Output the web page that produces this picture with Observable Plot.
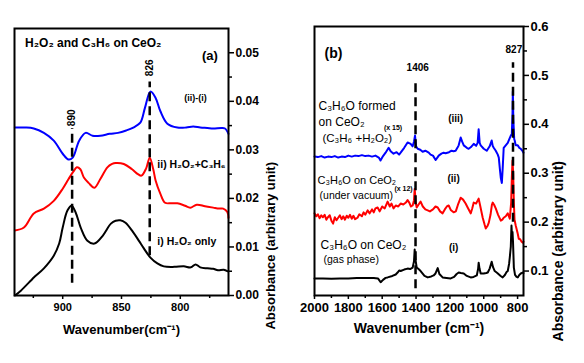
<!DOCTYPE html>
<html><head><meta charset="utf-8">
<script src="https://cdn.jsdelivr.net/npm/d3@7"></script>
<script src="https://cdn.jsdelivr.net/npm/@observablehq/plot@0.6"></script>
<style>
body{margin:0;background:#fff}
#wrap{position:relative;width:584px;height:363px;font-family:"Liberation Sans",Arial,sans-serif}
#wrap svg{position:absolute;top:0}
</style></head><body><div id="wrap"></div>
<script>
// ---------- Panel (a): H2O2 and C3H6 on CeO2 ----------
const aBlackWn  = [940.7,935.6,927,924.6,916,907.6,903,900,896,892.4,889,884.7,879,873,866,859,855,851,846.6,840,835,831,825.4,819.5,814,805,797,791,787,783,777,772,768,763,760];
const aBlackAbs = [0.0,0.001,0.0031,0.0037,0.0056,0.0082,0.0107,0.014,0.0175,0.0185,0.0171,0.014,0.0113,0.0107,0.0123,0.0148,0.0154,0.0155,0.015,0.013,0.0112,0.0097,0.0078,0.0066,0.006,0.0059,0.006,0.0058,0.0064,0.0058,0.0056,0.0055,0.0052,0.0053,0.005];
const aRedWn  = [940.7,933,924.6,916,907.6,900,895,891,888,885,882,878,873,868,862,858,855,848,841,836,833,829,826,823,821,817,813,808,802.5,796,791.5,786,779,772,767,763.5,760,759];
const aRedAbs = [0.0134,0.014,0.0169,0.0179,0.0195,0.022,0.024,0.0255,0.0264,0.026,0.0243,0.0232,0.0222,0.024,0.0264,0.0271,0.0273,0.0271,0.026,0.025,0.0247,0.0262,0.0284,0.026,0.0237,0.021,0.0191,0.019,0.019,0.0185,0.0181,0.0187,0.0184,0.0181,0.0179,0.0179,0.0172,0.016];
const aBlueWn  = [940.7,932,924.6,916,907.6,900,895,891.5,886,880.5,874.6,868,860,853,846,840,834,830,825.4,821,817,811,802.5,795,789,783,777,772,765,762,759];
const aBlueAbs = [0.0346,0.0346,0.0344,0.0335,0.0319,0.0292,0.028,0.0284,0.0319,0.0335,0.0329,0.0329,0.0333,0.0335,0.034,0.0346,0.0356,0.0387,0.042,0.0407,0.038,0.0354,0.0346,0.0346,0.0348,0.0346,0.0345,0.0344,0.0345,0.0344,0.0333];
const aXTicks = [900, 850, 800];
const aXMinor = [925, 875, 825, 775];
const aYTicks = [0, 0.01, 0.02, 0.03, 0.04, 0.05];
const aYMinor = [0.005, 0.015, 0.025, 0.035, 0.045];
const aMarkers = [890, 826];

// ---------- Panel (b): C3H6O on CeO2 ----------
const bBlueWn  = [2000,1980,1960,1940,1920,1900,1880,1860,1840,1820,1800,1780,1760,1740,1720,1700,1680,1660,1640,1620,1610,1595,1580,1562,1550,1533,1515,1500,1491,1470,1450,1432,1420,1412,1406,1400,1390,1375,1361,1345,1325,1314,1300,1284,1272,1266,1250,1237,1225,1205,1190,1178,1166,1154,1148,1136,1128,1118,1100,1089,1077,1059,1045,1036,1030,1024,1018,1000,982,965,953,947,941,929,917,911,905,899,893,888,882,870,858,852,840,834,830,828,825,820,817,811,799,790,781,770,765];
const bBlueAbs = [0.334,0.333,0.335,0.332,0.334,0.333,0.335,0.332,0.334,0.333,0.336,0.334,0.336,0.335,0.337,0.335,0.336,0.334,0.336,0.332,0.326,0.335,0.342,0.352,0.345,0.34,0.343,0.338,0.342,0.352,0.363,0.36,0.355,0.365,0.377,0.355,0.35,0.348,0.344,0.346,0.342,0.338,0.336,0.327,0.333,0.336,0.34,0.342,0.341,0.343,0.346,0.345,0.346,0.353,0.357,0.373,0.365,0.357,0.352,0.35,0.353,0.36,0.356,0.362,0.39,0.362,0.357,0.35,0.346,0.355,0.367,0.356,0.352,0.346,0.338,0.332,0.31,0.29,0.28,0.31,0.352,0.357,0.362,0.367,0.377,0.38,0.42,0.467,0.41,0.37,0.367,0.357,0.357,0.352,0.35,0.345,0.342];
const bRedWn  = [2000,1990,1980,1970,1960,1950,1940,1930,1923,1910,1900,1890,1880,1870,1864,1850,1840,1830,1820,1810,1800,1790,1780,1770,1760,1746,1735,1720,1710,1700,1686,1675,1660,1650,1640,1627,1615,1600,1585,1568,1555,1545,1533,1520,1505,1491,1475,1460,1450,1440,1430,1420,1412,1408,1402,1396,1385,1373,1360,1345,1331,1318,1300,1285,1272,1258,1243,1230,1218,1207,1195,1178,1165,1150,1136,1122,1107,1095,1077,1068,1059,1045,1030,1020,1006,995,988,978,970,960,952,947,938,929,915,899,890,882,870,858,846,838,834,830,826,822,818,811,800,793,785,776,769,765];
const bRedAbs = [0.218,0.212,0.216,0.208,0.214,0.21,0.215,0.205,0.209,0.214,0.203,0.197,0.21,0.204,0.207,0.214,0.206,0.212,0.205,0.213,0.209,0.215,0.207,0.213,0.206,0.209,0.216,0.212,0.22,0.215,0.224,0.218,0.226,0.22,0.228,0.23,0.222,0.232,0.228,0.242,0.232,0.238,0.228,0.234,0.232,0.238,0.236,0.24,0.245,0.24,0.232,0.234,0.245,0.268,0.24,0.23,0.236,0.242,0.232,0.226,0.224,0.222,0.226,0.232,0.23,0.222,0.218,0.226,0.232,0.234,0.225,0.22,0.222,0.238,0.25,0.246,0.238,0.23,0.218,0.228,0.24,0.238,0.248,0.232,0.209,0.195,0.187,0.192,0.199,0.215,0.235,0.24,0.235,0.228,0.215,0.203,0.205,0.209,0.212,0.218,0.207,0.24,0.29,0.326,0.3,0.24,0.205,0.193,0.178,0.166,0.165,0.16,0.158,0.16];
const bBlackWn  = [2000,1950,1900,1850,1800,1750,1700,1650,1625,1609,1595,1580,1568,1540,1520,1509,1500,1491,1470,1450,1435,1420,1412,1408,1404,1396,1385,1373,1350,1331,1310,1296,1285,1272,1262,1243,1220,1195,1175,1160,1148,1135,1118,1100,1077,1060,1041,1033,1030,1025,1018,1000,985,976,965,953,945,935,920,900,888,875,865,858,850,846,840,836,833,830,827,822,815,806,799,790,781,770,765];
const bBlackAbs = [0.085,0.085,0.084,0.085,0.085,0.086,0.086,0.086,0.085,0.077,0.082,0.086,0.087,0.09,0.093,0.097,0.101,0.1,0.103,0.105,0.104,0.107,0.12,0.144,0.125,0.107,0.104,0.1,0.09,0.087,0.089,0.091,0.095,0.106,0.094,0.087,0.086,0.085,0.088,0.094,0.097,0.096,0.095,0.09,0.087,0.088,0.091,0.105,0.117,0.105,0.095,0.095,0.096,0.097,0.105,0.119,0.108,0.1,0.096,0.09,0.087,0.092,0.098,0.1,0.115,0.128,0.15,0.193,0.17,0.18,0.16,0.107,0.092,0.088,0.087,0.092,0.095,0.097,0.096];
const bXTicks = [2000, 1800, 1600, 1400, 1200, 1000, 800];
const bXMinor = [1900, 1700, 1500, 1300, 1100, 900];
const bYTicks = [0.1, 0.2, 0.3, 0.4, 0.5, 0.6];
const bYMinor = [0.15, 0.25, 0.35, 0.45, 0.55];
const bMarkers = [1406, 827];

const FONT = '"Liberation Sans", Arial, sans-serif';
const wrap = document.getElementById("wrap");

// ---------- Panel (a) ----------
const plotA = Plot.plot({
  width: 292, height: 363,
  marginLeft: 14, marginRight: 64, marginTop: 28, marginBottom: 68,
  style: {fontFamily: FONT, background: "transparent", overflow: "visible"},
  x: {domain: [941, 759]},
  y: {domain: [0, 0.055]},
  marks: [
    Plot.line(aBlackWn, {x: aBlackWn, y: aBlackAbs, stroke: "#000", strokeWidth: 2, curve: "catmull-rom"}),
    Plot.line(aRedWn, {x: aRedWn, y: aRedAbs, stroke: "#ff0000", strokeWidth: 2, curve: "catmull-rom"}),
    Plot.line(aBlueWn, {x: aBlueWn, y: aBlueAbs, stroke: "#0000ff", strokeWidth: 2, curve: "catmull-rom"}),
    Plot.ruleX([aMarkers[0]], {x: d => d + 2, y1: 0.0025, y2: 0.0344, stroke: "#000", strokeWidth: 2.5, strokeDasharray: "9,5"}),
    Plot.ruleX([aMarkers[1]], {x: d => d, y1: 0.0082, y2: 0.044, stroke: "#000", strokeWidth: 2.5, strokeDasharray: "9,5"}),
    Plot.text([aMarkers[0]], {x: d => d + 2, y: 0.0366, text: d => String(d), rotate: -90, fontSize: 10, fontWeight: "bold"}),
    Plot.text([aMarkers[1]], {x: d => d, y: 0.0469, text: d => String(d), rotate: -90, fontSize: 10, fontWeight: "bold"}),
    Plot.text(["H₂O₂ and C₃H₆ on CeO₂"], {x: 932, y: 0.0519, textAnchor: "start", fontSize: 12, fontWeight: "bold"}),
    Plot.text(["(a)"], {x: 768, y: 0.0494, textAnchor: "end", fontSize: 13, fontWeight: "bold"}),
    Plot.text(["(ii)-(i)"], {x: 796.6, y: 0.0407, textAnchor: "start", fontSize: 9, fontWeight: "bold"}),
    Plot.text(["ii) H₂O₂+C₃H₆"], {x: 819.5, y: 0.027, textAnchor: "start", fontSize: 10.5, fontWeight: "bold"}),
    Plot.text(["i) H₂O₂ only"], {x: 819.5, y: 0.0111, textAnchor: "start", fontSize: 10.5, fontWeight: "bold"}),
    Plot.frame({stroke: "#000", strokeWidth: 2}),
    Plot.axisX(aXTicks, {tickSize: 4, tickPadding: 4, fontSize: 11, fontWeight: "bold", strokeWidth: 1.5, label: null, tickFormat: d => String(d)}),
    Plot.axisX(aXMinor, {tickSize: 3, strokeWidth: 1.5, label: null, tickFormat: () => ""}),
    Plot.axisY(aYTicks, {anchor: "right", tickSize: 5, tickPadding: 2, fontSize: 12, fontWeight: "bold", strokeWidth: 1.5, label: null, tickFormat: d3.format(".2f")}),
    Plot.axisY(aYMinor, {anchor: "right", tickSize: 3, strokeWidth: 1.5, label: null, tickFormat: () => ""}),
    Plot.text(["Wavenumber(cm⁻¹)"], {frameAnchor: "bottom", dy: 38, fontSize: 13, fontWeight: "bold"}),
    Plot.text(["Absorbance (arbitrary unit)"], {frameAnchor: "right", dx: 42, rotate: -90, fontSize: 13, fontWeight: "bold"})
  ]
});
plotA.style.left = "0px";
wrap.appendChild(plotA);

// ---------- Panel (b) ----------
const plotB = Plot.plot({
  width: 292, height: 363,
  marginLeft: 22, marginRight: 61, marginTop: 26, marginBottom: 68,
  style: {fontFamily: FONT, background: "transparent", overflow: "visible"},
  x: {domain: [2000, 765]},
  y: {domain: [0.05, 0.6]},
  marks: [
    Plot.line(bBlackWn, {x: bBlackWn, y: bBlackAbs, stroke: "#000", strokeWidth: 2}),
    Plot.line(bRedWn, {x: bRedWn, y: bRedAbs, stroke: "#ff0000", strokeWidth: 2}),
    Plot.line(bBlueWn, {x: bBlueWn, y: bBlueAbs, stroke: "#0000ff", strokeWidth: 2}),
    Plot.ruleX([bMarkers[0]], {x: d => d - 3, y1: 0.064, y2: 0.483, stroke: "#000", strokeWidth: 2.5, strokeDasharray: "9,5"}),
    Plot.ruleX([bMarkers[1]], {x: d => d, y1: 0.2, y2: 0.526, stroke: "#000", strokeWidth: 2.5, strokeDasharray: "9,5"}),
    Plot.text([bMarkers[0]], {x: 1390, y: 0.516, text: d => String(d), fontSize: 10, fontWeight: "bold"}),
    Plot.text([bMarkers[1]], {x: 822, y: 0.553, text: d => String(d), fontSize: 10, fontWeight: "bold"}),
    Plot.text(["(b)"], {x: 1941, y: 0.545, textAnchor: "start", fontSize: 14, fontWeight: "bold"}),
    Plot.text(["C₃H₆O formed"], {x: 1976, y: 0.438, textAnchor: "start", fontSize: 12}),
    Plot.text(["on CeO₂"], {x: 1976, y: 0.404, textAnchor: "start", fontSize: 12}),
    Plot.text(["(C₃H₆ +H₂O₂)"], {x: 1953, y: 0.371, textAnchor: "start", fontSize: 11.5}),
    Plot.text(["(x 15)"], {x: 1590, y: 0.393, textAnchor: "start", fontSize: 7, fontWeight: "bold"}),
    Plot.text(["(iii)"], {x: 1166, y: 0.412, fontSize: 10, fontWeight: "bold"}),
    Plot.text(["C₃H₆O on CeO₂"], {x: 1982, y: 0.285, textAnchor: "start", fontSize: 11}),
    Plot.text(["(x 12)"], {x: 1528, y: 0.268, textAnchor: "start", fontSize: 7, fontWeight: "bold"}),
    Plot.text(["(under vacuum)"], {x: 1970, y: 0.254, textAnchor: "start", fontSize: 10.5}),
    Plot.text(["(ii)"], {x: 1178, y: 0.289, fontSize: 10, fontWeight: "bold"}),
    Plot.text(["C₃H₆O on CeO₂"], {x: 1964, y: 0.152, textAnchor: "start", fontSize: 12}),
    Plot.text(["(gas phase)"], {x: 1947, y: 0.124, textAnchor: "start", fontSize: 10.5}),
    Plot.text(["(i)"], {x: 1178, y: 0.148, fontSize: 10, fontWeight: "bold"}),
    Plot.frame({stroke: "#000", strokeWidth: 2}),
    Plot.axisX(bXTicks, {tickSize: 4, tickPadding: 3, fontSize: 13, fontWeight: "bold", strokeWidth: 1.5, label: null, tickFormat: d => String(d)}),
    Plot.axisX(bXMinor, {tickSize: 3, strokeWidth: 1.5, label: null, tickFormat: () => ""}),
    Plot.axisY(bYTicks, {anchor: "right", tickSize: 5, tickPadding: 2, fontSize: 13, fontWeight: "bold", strokeWidth: 1.5, label: null, tickFormat: d3.format(".1f")}),
    Plot.axisY(bYMinor, {anchor: "right", tickSize: 3, strokeWidth: 1.5, label: null, tickFormat: () => ""}),
    Plot.text(["Wavenumber (cm⁻¹)"], {frameAnchor: "bottom", dy: 37, fontSize: 14, fontWeight: "bold"}),
    Plot.text(["Absorbance (arbitrary unit)"], {frameAnchor: "right", dx: 35, rotate: -90, fontSize: 14, fontWeight: "bold"})
  ]
});
plotB.style.left = "292px";
wrap.appendChild(plotB);
</script>
</body></html>
